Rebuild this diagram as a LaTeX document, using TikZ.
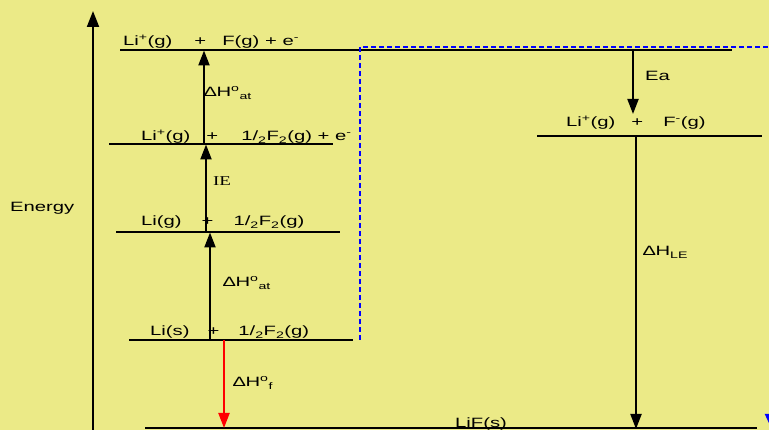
\documentclass[tikz,border=0pt]{standalone}
\usepackage{fontspec}
\setmainfont{Liberation Sans}[FakeStretch=1.5]
\newfontfamily\ieserif{Liberation Serif}[FakeStretch=1.4]
\usetikzlibrary{arrows.meta}
\definecolor{bg}{RGB}{235,234,135}
\definecolor{dashblue}{RGB}{0,0,255}
\definecolor{arrred}{RGB}{255,0,0}
\begin{document}
\begin{tikzpicture}[x=1pt,y=-1pt,
  font=\fontsize{13.5}{16}\selectfont,
  lbl/.style={inner sep=0pt, anchor=base west},
  lvl/.style={line width=1.4pt},
  arr/.style={line width=2.2pt, -{Triangle[length=15pt,width=11pt]}},
  bluedash/.style={dashblue, line width=2pt, dash pattern=on 5pt off 3pt}]
\useasboundingbox (0,0) rectangle (769,430);
\fill[bg] (0,0) rectangle (769,430);

% energy axis
\coordinate (axb) at (93,432);
\coordinate (axt) at (93,11);
\draw[line width=2pt, -{Triangle[length=16pt,width=12pt]}] (axb) -- (axt);
\node[lbl] (energy) at (10,212) {Energy};

% levels
\draw[line width=2.5pt] (120,50) -- (732,50);
\draw[lvl] (109,144) -- (333,144);
\draw[lvl] (116,232) -- (340,232);
\draw[lvl] (129,340) -- (353,340);
\draw[lvl] (537,136) -- (762,136);
\draw[line width=2pt] (145,428.5) -- (757,428.5);

% level labels
\node[lbl] (l1) at (123,46) {Li\textsuperscript{+}(g)\hspace{22pt}+\hspace{16pt}F(g) + e\textsuperscript{-}};
\node[lbl] (l2) at (141,141) {Li\textsuperscript{+}(g)\hspace{16pt}+\hspace{23pt}1/\textsubscript{2}F\textsubscript{2}(g) + e\textsuperscript{-}};
\node[lbl] (l3) at (141,226) {Li(g)\hspace{20pt}+\hspace{20pt}1/\textsubscript{2}F\textsubscript{2}(g)};
\node[lbl] (l4) at (150,336) {Li(s)\hspace{18pt}+\hspace{19pt}1/\textsubscript{2}F\textsubscript{2}(g)};
\node[lbl] (r1) at (566,127) {Li\textsuperscript{+}(g)\hspace{16pt}+\hspace{20pt}F\textsuperscript{-}(g)};
\node[lbl] (lif) at (455,428) {LiF(s)};

% blue dashed path
\coordinate (d0) at (360,340);
\coordinate (d1) at (360,47);
\coordinate (d2) at (773,47);
\coordinate (d3) at (773,432);
\draw[bluedash, -{Triangle[length=18pt,width=16pt]}] (d0) -- (d1) -- (d2) -- (d3);

% arrows
\coordinate (a1s) at (204,144); \coordinate (a1e) at (204,50.5);
\draw[arr] (a1s) -- (a1e);
\node[lbl] (at1) at (204,97) {∆H\textsuperscript{o}\textsubscript{at}};

\coordinate (a2s) at (206,232); \coordinate (a2e) at (206,144.5);
\draw[arr] (a2s) -- (a2e);
\node[lbl] (ie) at (213,186) {\ieserif IE};

\coordinate (a3s) at (210,340); \coordinate (a3e) at (210,232.5);
\draw[arr] (a3s) -- (a3e);
\node[lbl] (at2) at (223,287) {∆H\textsuperscript{o}\textsubscript{at}};

\coordinate (a4s) at (224,340); \coordinate (a4e) at (224,428);
\draw[arr, arrred] (a4s) -- (a4e);
\node[lbl] (hf) at (233,387) {∆H\textsuperscript{o}\textsubscript{f}};

\coordinate (a5s) at (633,50); \coordinate (a5e) at (633,114);
\draw[arr, line width=2pt] (a5s) -- (a5e);
\node[lbl] (ea) at (645,81) {Ea};

\coordinate (a6s) at (636,136); \coordinate (a6e) at (636,429);
\draw[arr, line width=2pt] (a6s) -- (a6e);
\node[lbl] (le) at (643,256) {∆H\textsubscript{LE}};
\end{tikzpicture}
\end{document}
